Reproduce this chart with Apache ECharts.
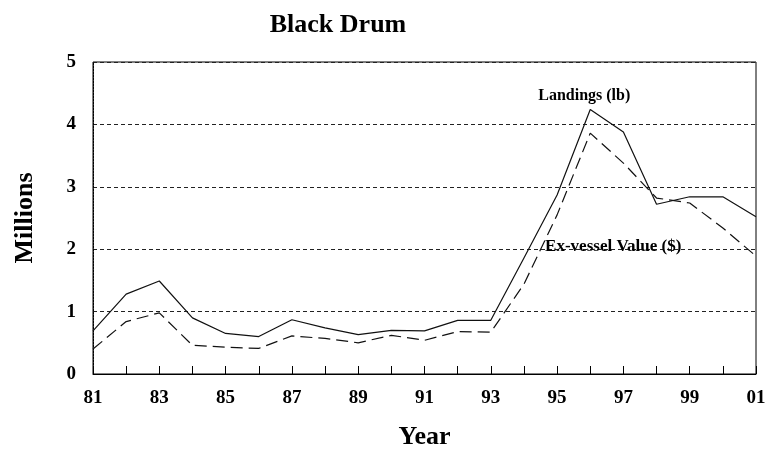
<!DOCTYPE html>
<html>
<head>
<meta charset="utf-8">
<script src="https://cdn.jsdelivr.net/npm/echarts@6/dist/echarts.min.js"></script>
<style>
  html, body { margin: 0; padding: 0; background: #fff; }
  #chart { width: 769px; height: 449px; }
</style>
</head>
<body>
<div id="chart"></div>
<script>
// data (millions)
const years = ['81', '82', '83', '84', '85', '86', '87', '88', '89', '90', '91',
  '92', '93', '94', '95', '96', '97', '98', '99', '00', '01']
const landings = [0.69, 1.28, 1.49, 0.9, 0.65, 0.6, 0.87, 0.74, 0.63, 0.7, 0.69,
  0.86, 0.86, 1.86, 2.87, 4.24, 3.88, 2.72, 2.84, 2.84, 2.52]
const exvessel = [0.4, 0.84, 0.98, 0.46, 0.43, 0.41, 0.61, 0.57, 0.5, 0.62, 0.54,
  0.68, 0.67, 1.44, 2.55, 3.86, 3.38, 2.82, 2.74, 2.34, 1.89]
const yTicks = [0, 1, 2, 3, 4, 5]

const font = 'Liberation Serif'
const chart = echarts.init(document.getElementById('chart'))

chart.setOption({
  animation: false,
  title: {
    text: 'Black Drum',
    left: 333,
    top: 7,
    textAlign: 'center',
    textStyle: { fontFamily: font, fontSize: 26, fontWeight: 'bold', color: '#000' },
  },
  grid: { left: 93, right: 13, top: 62, bottom: 75, outerBoundsMode: 'none', containLabel: false },
  xAxis: {
    type: 'category',
    data: years,
    boundaryGap: false,
    name: 'Year',
    nameLocation: 'middle',
    nameGap: 50,
    nameTextStyle: { fontFamily: font, fontSize: 26, fontWeight: 'bold', color: '#000' },
    axisLine: { lineStyle: { color: '#000', width: 1 } },
    axisTick: { show: true, inside: true, length: 8, interval: 0, lineStyle: { color: '#000', width: 1 } },
    axisLabel: {
      interval: 1,
      margin: 15,
      fontFamily: font,
      fontSize: 19,
      fontWeight: 'bold',
      color: '#000',
    },
    splitLine: { show: false },
    z: 10,
  },
  yAxis: {
    type: 'value',
    min: yTicks[0],
    max: yTicks[yTicks.length - 1],
    interval: 1,
    name: 'Millions',
    nameLocation: 'middle',
    nameGap: 55,
    nameRotate: 90,
    nameTextStyle: { fontFamily: font, fontSize: 26, fontWeight: 'bold', color: '#000' },
    axisLine: { show: true, lineStyle: { color: '#000', width: 1, type: [2, 1] } },
    axisTick: { show: false },
    axisLabel: {
      margin: 17,
      fontFamily: font,
      fontSize: 19,
      fontWeight: 'bold',
      color: '#000',
    },
    splitLine: { lineStyle: { color: '#222', width: 1, type: [4, 3] } },
  },
  series: [
    {
      name: 'Landings (lb)',
      type: 'line',
      data: landings,
      symbol: 'none',
      lineStyle: { color: '#111', width: 1.2 },
      markPoint: {
        symbol: 'circle',
        symbolSize: 0,
        data: [
          {
            coord: [years[15], landings[15]],
            label: {
              show: true,
              formatter: 'Landings (lb)',
              position: 'top',
              distance: 6,
              offset: [-6, 0],
              fontFamily: font,
              fontSize: 16,
              fontWeight: 'bold',
              color: '#000',
            },
          },
        ],
      },
    },
    {
      name: 'Ex-vessel Value ($)',
      type: 'line',
      data: exvessel,
      symbol: 'none',
      lineStyle: { color: '#111', width: 1.2, type: [12, 6] },
      markPoint: {
        symbol: 'circle',
        symbolSize: 0,
        data: [
          {
            coord: [years[14], exvessel[14]],
            label: {
              show: true,
              formatter: 'Ex-vessel Value ($)',
              position: 'right',
              distance: 0,
              offset: [-12, 32],
              fontFamily: font,
              fontSize: 17,
              fontWeight: 'bold',
              color: '#000',
            },
          },
        ],
      },
    },
  ],
  graphic: [
    // top and right frame of the plot area
    {
      type: 'rect',
      shape: { x: 93, y: 62, width: 663, height: 312 },
      style: { fill: 'none', stroke: '#000', lineWidth: 1 },
      silent: true,
      z: -1,
    },
  ],
})
</script>
</body>
</html>
